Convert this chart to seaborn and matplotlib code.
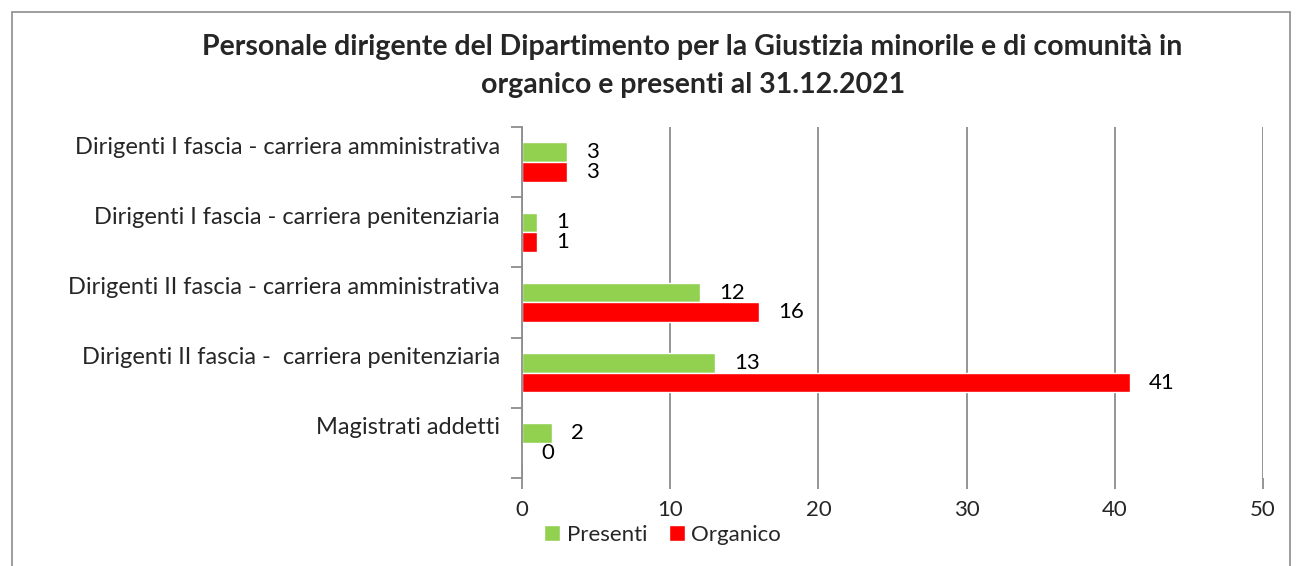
import pandas as pd
import matplotlib.pyplot as plt
import matplotlib.transforms as mtransforms
from matplotlib.patches import Rectangle, Patch
import seaborn as sns

# Data
categories = [
    "Dirigenti I fascia - carriera amministrativa",
    "Dirigenti I fascia - carriera penitenziaria",
    "Dirigenti II fascia - carriera amministrativa",
    "Dirigenti II fascia -  carriera penitenziaria",
    "Magistrati addetti",
]
presenti = [3, 1, 12, 13, 2]
organico = [3, 1, 16, 41, 0]
series = ["Presenti", "Organico"]
colors = ["#92D050", "#FF0000"]
title = ("Personale dirigente del Dipartimento per la Giustizia minorile e di comunità in\n"
         "organico e presenti al 31.12.2021")

df = pd.DataFrame({
    "categoria": categories * 2,
    "valore": presenti + organico,
    "serie": [series[0]] * len(categories) + [series[1]] * len(categories),
})

sns.set_style("white")
plt.rcParams["font.family"] = ["Lato", "DejaVu Sans"]

fig = plt.figure(figsize=(12.97, 5.66), dpi=100)
ax = fig.add_axes([0.4025, 0.1555, 0.5713, 0.6201])

sns.barplot(data=df, y="categoria", x="valore", hue="serie", order=categories,
            hue_order=series, palette=colors, orient="h", width=0.56,
            saturation=1, ax=ax, legend=False)

for c in ax.containers:
    ax.bar_label(c, padding=14, fontsize=16, color="black")

ax.set_xlim(0, 50)
ax.set_ylim(len(categories) - 0.5, -0.5)
ax.set_xticks(range(0, 51, 10))
ax.set_xlabel("")
ax.set_ylabel("")
ax.grid(axis="x", color="#8c8c8c", linewidth=1.3)
ax.set_axisbelow(True)

for s in ["top", "right", "bottom"]:
    ax.spines[s].set_visible(False)
ax.spines["left"].set_color("#8c8c8c")
ax.spines["left"].set_linewidth(1.3)

ax.tick_params(axis="x", bottom=True, length=8, color="#8c8c8c", width=1.3,
               labelsize=16, pad=8)
ax.tick_params(axis="y", which="major", left=False, length=0, labelsize=17, pad=16)
ax.set_yticks([i - 0.5 for i in range(len(categories) + 1)], minor=True)
ax.tick_params(axis="y", which="minor", left=True, length=8, color="#8c8c8c", width=1.3)

# labels sit a bit above the category centre
offset = mtransforms.ScaledTranslation(0, 0.17, fig.dpi_scale_trans)
for lab in ax.get_yticklabels():
    lab.set_transform(lab.get_transform() + offset)

fig.text(0.534, 0.883, title, ha="center", va="center", fontsize=20.5,
         fontweight="bold", linespacing=1.55)

handles = [Patch(facecolor=c, label=s) for c, s in zip(colors, series)]
fig.legend(handles=handles, loc="center", bbox_to_anchor=(0.511, 0.055), ncol=2,
           frameon=False, fontsize=16, handlelength=0.7, handleheight=0.7,
           handletextpad=0.3, columnspacing=1.0)

# chart border
fig.patches.append(Rectangle((12 / 1297, -0.1), 1278 / 1297, 1.1 - 12 / 566,
                             transform=fig.transFigure, fill=False,
                             edgecolor="#8c8c8c", linewidth=1.2))

fig.savefig("out.png", dpi=100)
